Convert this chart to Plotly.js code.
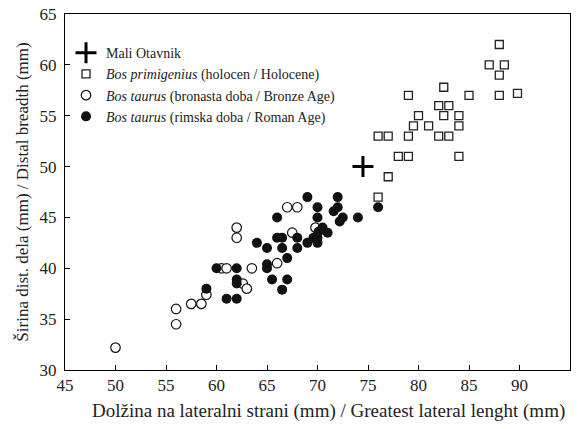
<!DOCTYPE html>
<html><head><meta charset="utf-8">
<script src="https://cdn.plot.ly/plotly-3.0.1.min.js"></script>
<style>html,body{margin:0;padding:0;background:#fff}#c{width:578px;height:429px}</style>
</head><body><div id="c"></div>
<script>
// Mali Otavnik
const maliX = [74.5];
const maliY = [50.0];
// Bos primigenius (holocen / Holocene)
const primX = [76, 77, 78, 79, 84, 76, 77, 79, 82, 83, 79.5, 81, 84, 80, 82.5, 84, 82, 83, 79, 82.5, 85, 88, 89.8, 88, 87, 88.5, 88];
const primY = [47, 49, 51, 51, 51, 53, 53, 53, 53, 53, 54, 54, 54, 55, 55, 55, 56, 56, 57, 57.8, 57, 57, 57.2, 59, 60, 60, 62];
// Bos taurus (bronasta doba / Bronze Age)
const bronzeX = [50, 56, 56, 57.5, 58.5, 59, 60.5, 61, 62, 62, 62.6, 63, 63.5, 66, 67.5, 67, 68, 69.8];
const bronzeY = [32.2, 36, 34.5, 36.5, 36.5, 37.4, 40, 40, 44, 43, 38.5, 38, 40, 40.5, 43.5, 46, 46, 44];
// Bos taurus (rimska doba / Roman Age)
const romanX = [59, 60, 62, 62, 62, 61, 62, 64, 65, 66.5, 68, 65, 65, 65.5, 66.5, 67, 67, 66, 66, 66.5, 68, 69.6, 69, 70, 69, 72, 70, 72, 71.6, 70, 72.5, 72.2, 74, 70.5, 70.1, 71, 70, 76];
const romanY = [38, 40, 40, 38.9, 38.5, 37, 37, 42.5, 42, 42, 42, 40.4, 40, 38.9, 37.9, 38.9, 41, 45, 43, 43, 43, 43, 42.5, 42.5, 47, 47, 46, 46, 45.6, 45, 45, 44.6, 45, 44, 43.6, 43.5, 43, 46];

const xTitle = 'Dolžina na lateralni strani (mm) / Greatest lateral lenght (mm)';
const yTitle = 'Širina dist. dela (mm) / Distal breadth (mm)';

const serif = "Liberation Serif, Times New Roman, serif";
const traces = [
  {x: maliX, y: maliY, mode: 'markers', type: 'scatter', name: 'Mali Otavnik',
   marker: {symbol: 'cross-thin-open', size: 15, color: '#000', line: {color: '#000', width: 3}}},
  {x: primX, y: primY, mode: 'markers', type: 'scatter', name: '<i>Bos primigenius</i> (holocen / Holocene)',
   marker: {symbol: 'square', size: 8, color: '#fff', line: {color: '#222', width: 1.3}}},
  {x: bronzeX, y: bronzeY, mode: 'markers', type: 'scatter', name: '<i>Bos taurus</i> (bronasta doba / Bronze Age)',
   marker: {symbol: 'circle', size: 9.5, color: '#fff', line: {color: '#111', width: 1.2}}},
  {x: romanX, y: romanY, mode: 'markers', type: 'scatter', name: '<i>Bos taurus</i> (rimska doba / Roman Age)',
   marker: {symbol: 'circle', size: 10, color: '#111', line: {color: '#111', width: 0}}}
];
const axisCommon = {showline: true, mirror: true, linecolor: '#000', linewidth: 1, ticks: 'inside', ticklen: 5,
  tickcolor: '#000', showgrid: false, zeroline: false, tickfont: {family: serif, size: 17, color: '#222'}};
const layout = {
  width: 578, height: 429,
  margin: {l: 65, r: 8, t: 14, b: 59},
  paper_bgcolor: '#fff', plot_bgcolor: '#fff',
  font: {family: serif, color: '#222'},
  showlegend: true,
  legend: {x: 0.002, y: 0.935, xanchor: 'left', yanchor: 'top', bgcolor: 'rgba(0,0,0,0)',
    font: {family: serif, size: 14, color: '#222'}},
  xaxis: Object.assign({}, axisCommon, {range: [45, 95], tick0: 45, dtick: 5}),
  yaxis: Object.assign({}, axisCommon, {range: [30, 65], tick0: 30, dtick: 5, ticklabelstandoff: 4,
    title: {text: yTitle, font: {family: serif, size: 17, color: '#222'}, standoff: 6}}),
  annotations: [{text: xTitle, xref: 'paper', yref: 'paper', x: 0.521, y: -0.115,
    xanchor: 'center', yanchor: 'middle', showarrow: false, font: {family: serif, size: 19, color: '#222'}}]
};
Plotly.newPlot('c', traces, layout, {displayModeBar: false, staticPlot: true});
</script></body></html>
